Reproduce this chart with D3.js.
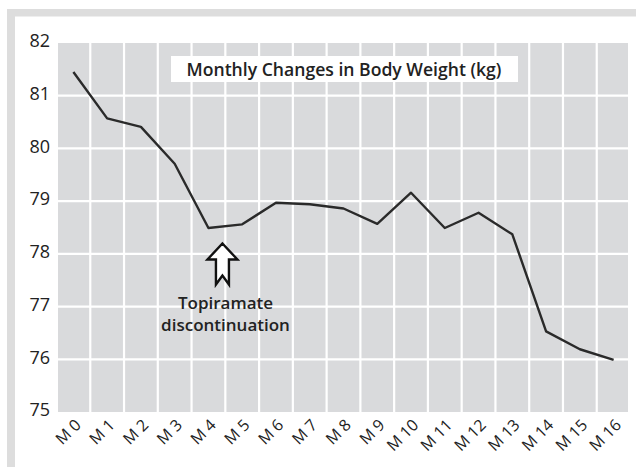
<!DOCTYPE html>
<html><head><meta charset="utf-8">
<script src="https://cdn.jsdelivr.net/npm/d3@7"></script>
<style>html,body{margin:0;padding:0;background:#fff;}svg{display:block;}</style>
</head><body>
<script>
const months = ["M 0","M 1","M 2","M 3","M 4","M 5","M 6","M 7","M 8","M 9","M 10","M 11","M 12","M 13","M 14","M 15","M 16"];
const weights = [81.45, 80.57, 80.41, 79.71, 78.49, 78.56, 78.97, 78.94, 78.86, 78.57, 79.16, 78.49, 78.78, 78.37, 76.53, 76.19, 75.99];
const yTicks = [75, 76, 77, 78, 79, 80, 81, 82];
const titleText = "Monthly Changes in Body Weight (kg)";
const noteLines = ["Topiramate", "discontinuation"];
const noteMonth = "M 4";
const noteValue = 78.5;

const W = 636, H = 467;
const svg = d3.select("body").append("svg").attr("width", W).attr("height", H);

// frame
svg.append("rect").attr("x", 7).attr("y", 9).attr("width", W - 7).attr("height", H - 9).attr("fill", "#dddddd");
svg.append("rect").attr("x", 15).attr("y", 16.5).attr("width", W - 15).attr("height", H - 16.5).attr("fill", "#ffffff");

const plot = {left: 58, right: 628, top: 43, bottom: 412};
const x = d3.scaleBand().domain(months).range([56.5, 630.5]).padding(0);
const y = d3.scaleLinear().domain([75, 82]).range([412, 43]);

svg.append("rect").attr("x", plot.left).attr("y", plot.top)
  .attr("width", plot.right - plot.left).attr("height", plot.bottom - plot.top)
  .attr("fill", "#d9dadc");

// grid
const g = svg.append("g");
g.selectAll("line.v").data(months.slice(1)).join("line")
  .attr("x1", d => x(d)).attr("x2", d => x(d))
  .attr("y1", plot.top).attr("y2", plot.bottom)
  .attr("stroke", "#fff").attr("stroke-width", 2.2);
g.selectAll("line.h").data(yTicks.filter(t => t > 75 && t < 82)).join("line")
  .attr("x1", plot.left).attr("x2", plot.right)
  .attr("y1", d => y(d)).attr("y2", d => y(d))
  .attr("stroke", "#fff").attr("stroke-width", 2.2);

// y axis
const yAxis = d3.axisLeft(y).tickValues(yTicks).tickSize(0).tickPadding(8).tickFormat(d3.format("d"));
const ya = svg.append("g").attr("transform", `translate(${plot.left},-2)`).call(yAxis);
ya.select(".domain").remove();
ya.selectAll("text").attr("font-family", "Open Sans").attr("font-size", 18).attr("fill", "#222");

// x axis
const xAxis = d3.axisBottom(x).tickSize(0).tickPadding(0);
const xa = svg.append("g").attr("transform", `translate(0,${plot.bottom})`).call(xAxis);
xa.select(".domain").remove();
xa.selectAll("text")
  .attr("font-family", "Open Sans").attr("font-size", 16).attr("fill", "#222")
  .attr("text-anchor", "end").attr("dy", 0)
  .attr("transform", "translate(8.5,14) rotate(-45)");

// line
const line = d3.line().x((d, i) => x(months[i]) + x.bandwidth() / 2).y(d => y(d));
svg.append("path").datum(weights).attr("d", line)
  .attr("fill", "none").attr("stroke", "#2a2a2a").attr("stroke-width", 2.4)
  .attr("stroke-linejoin", "round");

// title box
const title = svg.append("g");
title.append("rect").attr("x", 171).attr("y", 56).attr("width", 347).attr("height", 26).attr("fill", "#fff");
title.append("text").attr("x", 344).attr("y", 75.5).attr("text-anchor", "middle")
  .attr("font-family", "Open Sans").attr("font-weight", 600).attr("font-size", 17.6).attr("fill", "#222")
  .text(titleText);

// arrow annotation
const ax = x(noteMonth) + x.bandwidth() / 2 + 14;
const ay = y(noteValue) + 16;
svg.append("path")
  .attr("d", "M0,0 L15,16 L6.5,16 L6.5,41 L0,32 L-6.5,41 L-6.5,16 L-15,16 Z")
  .attr("transform", `translate(${ax},${ay})`)
  .attr("fill", "#fff").attr("stroke", "#111").attr("stroke-width", 2.4).attr("stroke-linejoin", "miter");

const note = svg.append("text").attr("text-anchor", "middle")
  .attr("font-family", "Open Sans").attr("font-weight", 600).attr("font-size", 17).attr("fill", "#222");
note.selectAll("tspan").data(noteLines).join("tspan")
  .attr("x", 225.5).attr("y", (d, i) => 309 + i * 22).text(d => d);
</script>
</body></html>
